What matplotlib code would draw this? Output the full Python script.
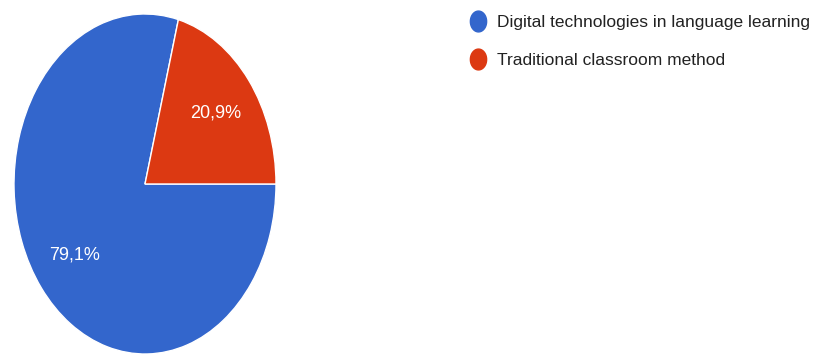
import matplotlib.pyplot as plt
from matplotlib.lines import Line2D
from matplotlib.path import Path
import numpy as np

plt.rcParams['font.family'] = ['Liberation Sans', 'DejaVu Sans']

labels = ['Digital technologies in language learning', 'Traditional classroom method']
shares = [79.1, 20.9]
colors = ['#3366cc', '#dc3912']

fig = plt.figure(figsize=(8.17, 3.56), dpi=100)
ax = fig.add_axes([14 / 817, 2 / 356, 262 / 817, 340 / 356])

# red slice sits between 3 o'clock and the top, blue takes the rest
start = shares[1] / 100 * 360
wedges, texts, autotexts = ax.pie(
    shares, colors=colors, startangle=start, counterclock=True,
    autopct=lambda p: f'{p:.1f}%'.replace('.', ','), pctdistance=0.68,
    wedgeprops=dict(edgecolor='white', linewidth=1),
    textprops=dict(color='white', fontsize=13), radius=1)
ax.set_aspect('auto')
ax.set_xlim(-1, 1)
ax.set_ylim(-1, 1)

# slightly tall round markers for the legend
t = np.linspace(0, 2 * np.pi, 60)
oval = Path(np.column_stack([0.78 * np.cos(t), np.sin(t)]))
handles = [Line2D([], [], linestyle='none', marker=oval, markersize=15,
                  markerfacecolor=c, markeredgecolor=c) for c in colors]
fig.legend(handles, labels, loc='upper left', bbox_to_anchor=(469 / 817, 1 - 15 / 356),
           frameon=False, fontsize=12.5, handlelength=1.0, handletextpad=0.6,
           labelspacing=1.3, borderpad=0, borderaxespad=0, labelcolor='#222222')

fig.savefig('out.png', dpi=100)
